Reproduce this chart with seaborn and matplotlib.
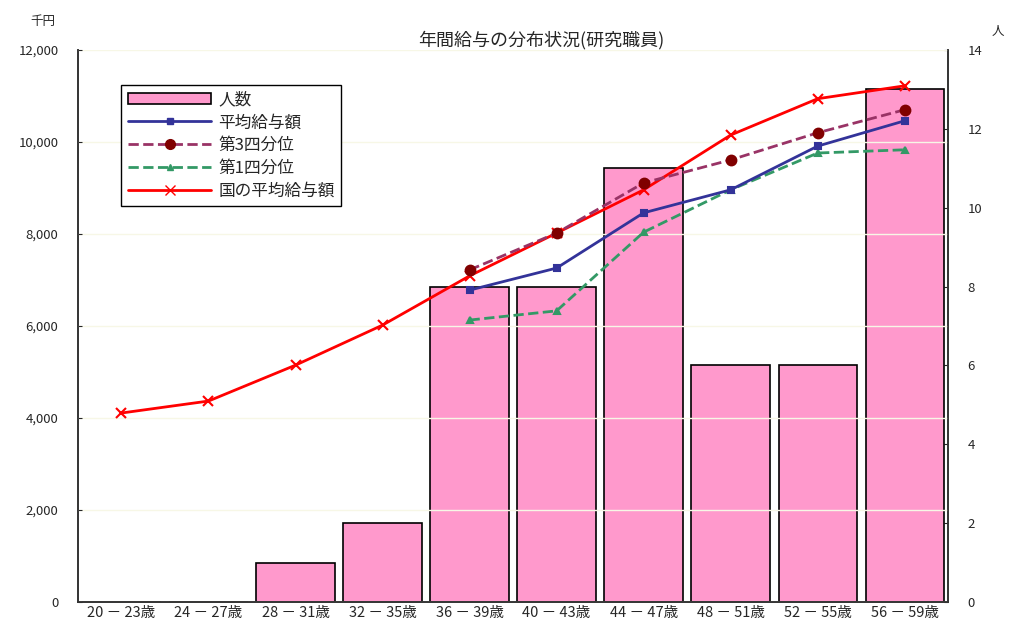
"""Annual salary distribution (research staff) - bars + lines on twin axes"""

import numpy as np
import pandas as pd
import seaborn as sns
import matplotlib.pyplot as plt
from matplotlib.patches import Patch
from matplotlib.lines import Line2D

ages = ["20 － 23歳", "24 － 27歳", "28 － 31歳", "32 － 35歳", "36 － 39歳",
        "40 － 43歳", "44 － 47歳", "48 － 51歳", "52 － 55歳", "56 － 59歳"]
headcount = [0, 0, 1, 2, 8, 8, 11, 6, 6, 13]
avg_salary = [np.nan] * 4 + [6780, 7260, 8460, 8960, 9910, 10460]
q3_salary = [np.nan] * 4 + [7220, 8020, 9110, 9610, 10200, 10700]
q1_salary = [np.nan] * 4 + [6130, 6330, 8040, 8960, 9760, 9830]
national_avg = [4110, 4370, 5150, 6020, 7090, 8020, 8960, 10150, 10940, 11220]

sns.set_style("white")
plt.rcParams["font.family"] = ["Noto Sans CJK JP", "DejaVu Sans"]

fig = plt.figure(figsize=(10.12, 6.24), dpi=100)
ax = fig.add_axes([0.077, 0.035, 0.86, 0.885])
ax2 = ax.twinx()
ax.set_zorder(ax2.get_zorder() + 1)
ax.patch.set_visible(False)

# bars (right axis)
df = pd.DataFrame({"age": ages, "n": headcount})
sns.barplot(data=df, x="age", y="n", ax=ax2, color="#ff99cc", saturation=1,
            width=0.9, edgecolor="black", linewidth=1.2)
ax2.set_ylim(0, 14)
ax2.set_yticks(range(0, 15, 2))
ax2.set_ylabel("")
ax2.set_xlabel("")

# lines (left axis)
pos = np.arange(len(ages))
series = [
    (national_avg, "#ff0000", "-", "x", 7, "国の平均給与額"),
    (q3_salary, "#993366", "--", "o", 7, "第3四分位"),
    (q1_salary, "#339966", "--", "^", 5, "第1四分位"),
    (avg_salary, "#333399", "-", "s", 5, "平均給与額"),
]
for vals, col, ls, mk, ms, lab in series:
    mfc = "#800000" if mk == "o" else col
    sns.lineplot(x=pos, y=vals, ax=ax, color=col, linestyle=ls, marker=mk,
                 markersize=ms, markerfacecolor=mfc, markeredgecolor=mfc,
                 markeredgewidth=1.5, linewidth=2)

ax.set_ylim(0, 12000)
ax.set_yticks(range(0, 12001, 2000))
ax.set_yticklabels([f"{v:,}" for v in range(0, 12001, 2000)])
ax.set_xlim(-0.5, len(ages) - 0.5)
ax.set_xticks(pos)
ax.set_xticklabels(ages)
ax.set_xticks(np.arange(-0.5, len(ages), 1), minor=True)
ax.tick_params(axis="x", which="major", length=0, labelsize=10.5, pad=3)
ax.tick_params(axis="x", which="minor", length=4, direction="in")
ax.tick_params(axis="y", length=3, direction="in", labelsize=9.5, pad=14)
ax2.tick_params(axis="y", length=3, direction="in", labelsize=9.5, pad=14)
ax2.tick_params(axis="x", length=0)
ax.grid(axis="y", color="#f7f7e6", linewidth=1)

for a in (ax, ax2):
    a.spines["top"].set_visible(False)
    for s in ("left", "right", "bottom"):
        a.spines[s].set_color("#333333")
        a.spines[s].set_linewidth(1.2)

fig.text(0.03, 0.965, "千円", fontsize=9, ha="left", va="center")
fig.text(0.992, 0.95, "人", fontsize=9, ha="right", va="center")
fig.text(0.535, 0.935, "年間給与の分布状況(研究職員)", fontsize=13, ha="center",
         va="center")

handles = [Patch(facecolor="#ff99cc", edgecolor="black", linewidth=1.2)]
labels = ["人数"]
order = [3, 1, 2, 0]
for i in order:
    vals, col, ls, mk, ms, lab = series[i]
    mfc = "#800000" if mk == "o" else col
    handles.append(Line2D([], [], color=col, linestyle=ls, marker=mk, markersize=ms,
                          markerfacecolor=mfc, markeredgecolor=mfc, linewidth=2))
    labels.append(lab)
leg = ax.legend(handles, labels, loc="upper left", bbox_to_anchor=(0.05, 0.937),
                fancybox=False, framealpha=1, edgecolor="black", fontsize=12,
                borderpad=0.4, labelspacing=0.35, handlelength=5.0,
                borderaxespad=0, handletextpad=0.4)
leg.get_frame().set_linewidth(1)

fig.savefig("out.png", dpi=100)
